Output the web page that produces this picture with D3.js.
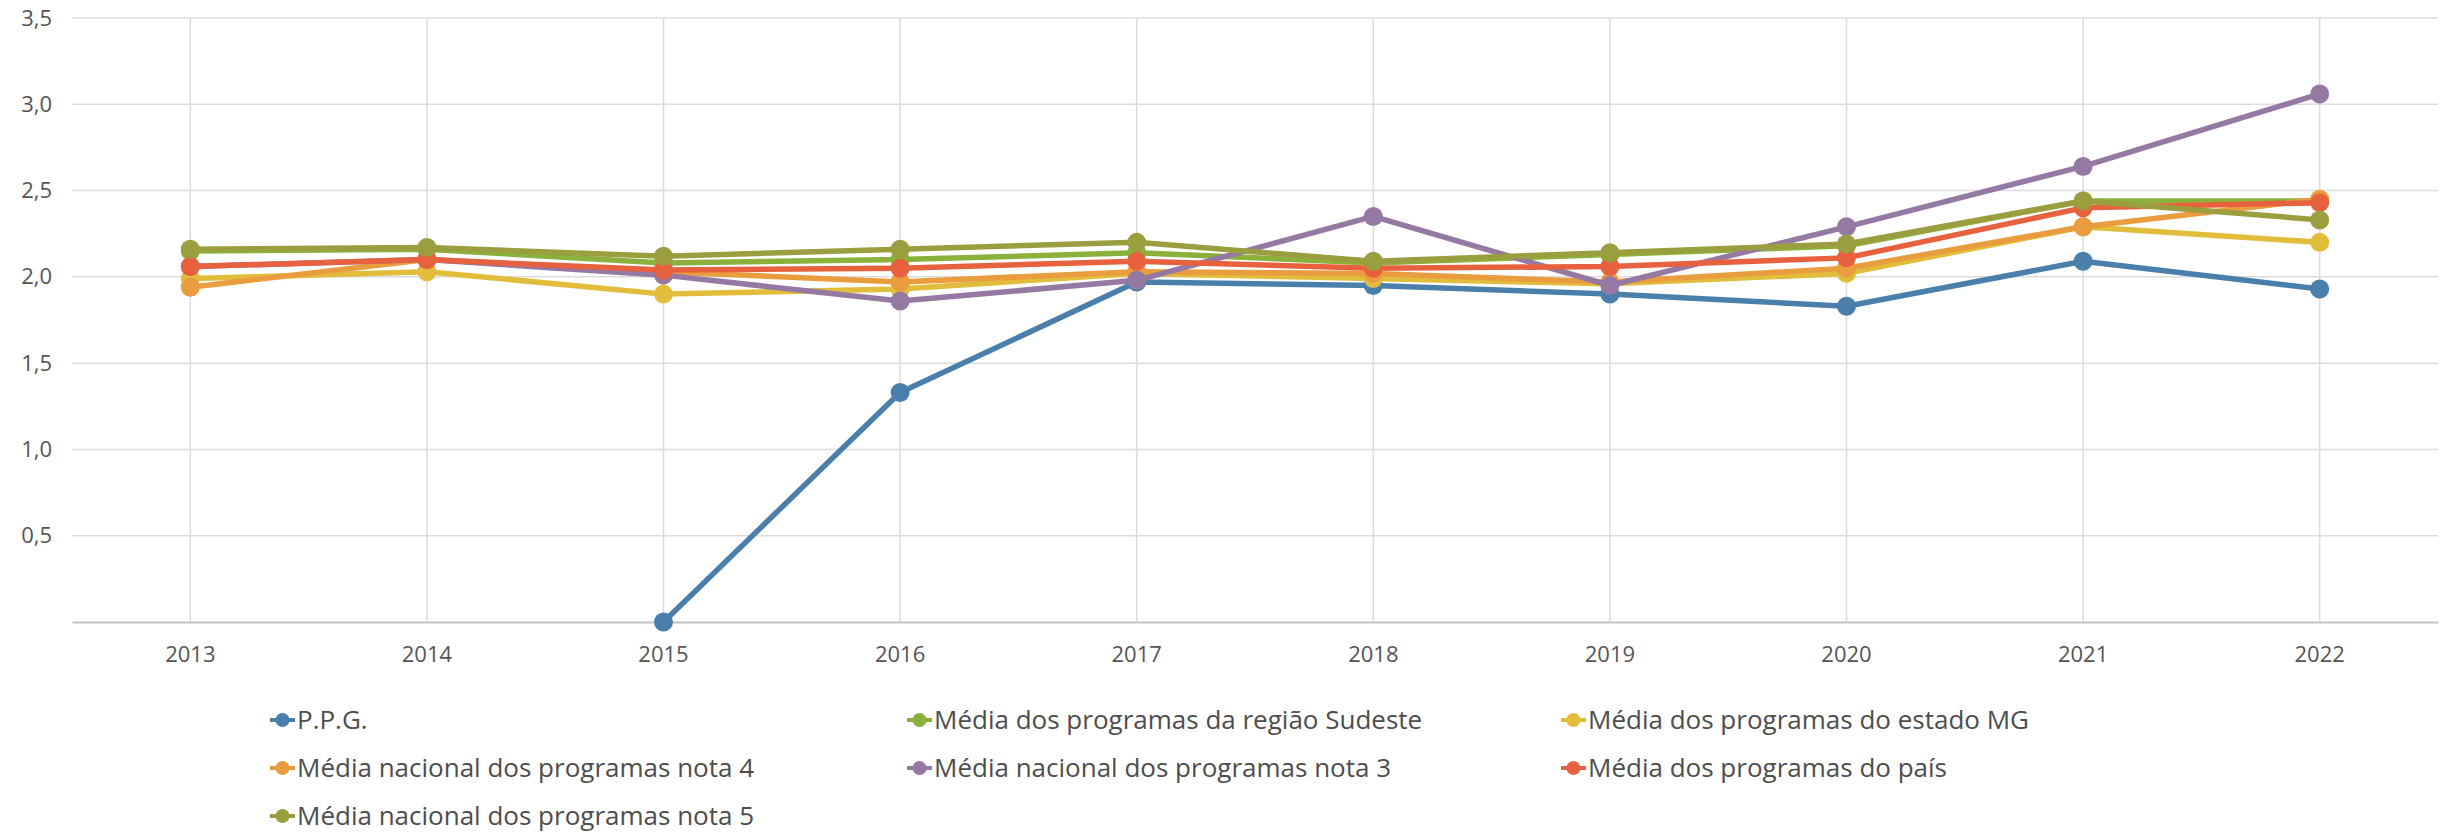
<!DOCTYPE html>
<html>
<head>
<meta charset="utf-8">
<script src="https://cdn.jsdelivr.net/npm/d3@7"></script>
<style>
  body { margin: 0; background: #fff; }
  svg { display: block; font-family: "Open Sans", sans-serif; }
</style>
</head>
<body>
<svg></svg>
<script>
const width = 2443;
const height = 836;
const margin = { top: 18, right: 5, bottom: 214, left: 72 };

// data
const years = ["2013", "2014", "2015", "2016", "2017", "2018", "2019", "2020", "2021", "2022"];
const ppg = [null, null, 0, 1.33, 1.97, 1.95, 1.9, 1.83, 2.09, 1.93];
const sudeste = [2.15, 2.16, 2.08, 2.1, 2.14, 2.08, 2.13, 2.18, 2.44, 2.44];
const estadoMG = [1.99, 2.03, 1.9, 1.93, 2.02, 1.99, 1.96, 2.02, 2.29, 2.2];
const nota4 = [1.94, 2.1, 2.03, 1.97, 2.03, 2.02, 1.97, 2.05, 2.29, 2.45];
const nota3 = [2.06, 2.1, 2.01, 1.86, 1.98, 2.35, 1.95, 2.29, 2.64, 3.06];
const pais = [2.06, 2.1, 2.04, 2.05, 2.09, 2.05, 2.06, 2.11, 2.4, 2.43];
const nota5 = [2.16, 2.17, 2.12, 2.16, 2.2, 2.09, 2.14, 2.19, 2.44, 2.33];
const yTicks = [0.5, 1, 1.5, 2, 2.5, 3, 3.5];

const seriesNames = [
  "P.P.G.",
  "Média dos programas da região Sudeste",
  "Média dos programas do estado MG",
  "Média nacional dos programas nota 4",
  "Média nacional dos programas nota 3",
  "Média dos programas do país",
  "Média nacional dos programas nota 5",
];
const seriesValues = [ppg, sudeste, estadoMG, nota4, nota3, pais, nota5];
const colors = ["#4a7fab", "#8bb13d", "#e1bd3b", "#e99d3e", "#9579a3", "#e8613f", "#9b9e3f"];

const svg = d3.select("svg").attr("width", width).attr("height", height);

const ptFormat = d3.formatLocale({ decimal: ",", thousands: ".", grouping: [3], currency: ["R$", ""] }).format(".1f");

const xScale = d3
  .scaleBand()
  .domain(years)
  .range([margin.left, width - margin.right]);

const xPos = (y) => xScale(y) + xScale.bandwidth() / 2;

const yScale = d3
  .scaleLinear()
  .domain([0, 3.5])
  .range([height - margin.bottom, margin.top]);

const drawGrid = () => {
  const grid = svg.append("g").attr("class", "grid");
  grid
    .selectAll("line.h")
    .data(yTicks)
    .enter()
    .append("line")
    .attr("class", "h")
    .attr("x1", margin.left)
    .attr("x2", width - margin.right)
    .attr("y1", (d) => yScale(d))
    .attr("y2", (d) => yScale(d))
    .attr("stroke", "#dcdcdc")
    .attr("stroke-width", 1.5);

  grid
    .selectAll("line.v")
    .data(years)
    .enter()
    .append("line")
    .attr("class", "v")
    .attr("x1", (d) => xPos(d))
    .attr("x2", (d) => xPos(d))
    .attr("y1", yScale(3.5))
    .attr("y2", yScale(0))
    .attr("stroke", "#dcdcdc")
    .attr("stroke-width", 1.5);
};

const drawAxes = () => {
  const xAxis = d3.axisBottom(xScale).tickSize(0).tickPadding(24);
  const gx = svg
    .append("g")
    .attr("id", "x-axis")
    .attr("transform", `translate(0, ${yScale(0)})`)
    .call(xAxis);
  gx.select(".domain").attr("stroke", "#c4c4c4").attr("stroke-width", 2);
  gx.selectAll("text").attr("font-size", 22).attr("fill", "#555").attr("font-family", "Open Sans");

  const yAxis = d3.axisLeft(yScale).tickValues(yTicks).tickFormat(ptFormat).tickSize(0).tickPadding(20);
  const gy = svg
    .append("g")
    .attr("id", "y-axis")
    .attr("transform", `translate(${margin.left}, 0)`)
    .call(yAxis);
  gy.select(".domain").remove();
  gy.selectAll("text").attr("font-size", 22).attr("fill", "#555").attr("font-family", "Open Sans");
};

const drawLines = () => {
  const line = d3
    .line()
    .defined((d) => d.v !== null)
    .x((d) => xPos(d.year))
    .y((d) => yScale(d.v));

  seriesValues.forEach((vals, i) => {
    const pts = years.map((year, j) => ({ year, v: vals[j] }));
    const g = svg.append("g").attr("class", "series");
    g.append("path")
      .datum(pts)
      .attr("d", line)
      .attr("fill", "none")
      .attr("stroke", colors[i])
      .attr("stroke-width", 5.5)
      .attr("stroke-linejoin", "round");
    g.selectAll("circle")
      .data(pts.filter((d) => d.v !== null))
      .enter()
      .append("circle")
      .attr("cx", (d) => xPos(d.year))
      .attr("cy", (d) => yScale(d.v))
      .attr("r", 9.5)
      .attr("fill", colors[i]);
  });
};

const drawLegend = () => {
  const colX = [270, 907, 1561];
  const rowY = [720, 768, 816];
  const legend = svg.append("g").attr("class", "legend");
  seriesNames.forEach((name, i) => {
    const x = colX[i % 3];
    const y = rowY[Math.floor(i / 3)];
    const item = legend.append("g").attr("transform", `translate(${x}, ${y})`);
    item.append("line")
      .attr("x1", 0).attr("x2", 25)
      .attr("stroke", colors[i]).attr("stroke-width", 4);
    item.append("circle").attr("cx", 12.5).attr("r", 7).attr("fill", colors[i]);
    item.append("text")
      .attr("x", 27)
      .attr("dy", "0.35em")
      .attr("font-size", 26)
      .attr("fill", "#4d4d4d")
      .text(name);
  });
};

drawGrid();
drawAxes();
drawLines();
drawLegend();
</script>
</body>
</html>
